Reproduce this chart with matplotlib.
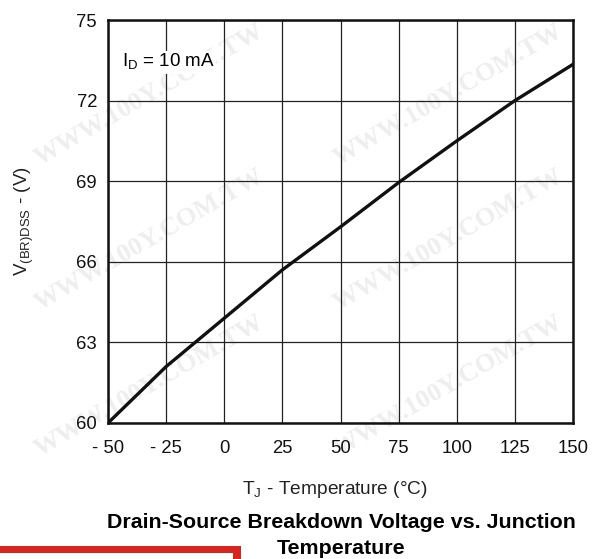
import matplotlib
matplotlib.use("Agg")
import matplotlib.pyplot as plt
from matplotlib.patches import Rectangle

# breakdown voltage
temp_c = [-50, -25, 0, 25, 50, 75, 100, 125, 150]
v_brdss = [60.0, 62.1, 63.9, 65.7, 67.3, 68.95, 70.5, 72.0, 73.35]

x_ticks = [-50, -25, 0, 25, 50, 75, 100, 125, 150]
x_ticklabels = ["- 50", "- 25", "0", "25", "50", "75", "100", "125", "150"]
y_ticks = [60, 63, 66, 69, 72, 75]

plt.rcParams["font.family"] = ["Liberation Sans", "DejaVu Sans"]

fig = plt.figure(figsize=(5.98, 5.59), dpi=100)

# faint watermark, kept behind the axes
wm = "WWW.100Y.COM.TW"
wm_pos = [(0.25, 0.83), (0.75, 0.83), (0.25, 0.57), (0.75, 0.57),
          (0.25, 0.31), (0.75, 0.31)]
for px, py in wm_pos:
    fig.text(px, py, wm, rotation=30, fontsize=19, fontweight="bold",
             family="Liberation Serif", color="#eeeeee", zorder=0,
             ha="center", va="center")

ax = fig.add_axes([0.1806, 0.2433, 0.7776, 0.7209])
ax.set_zorder(2)
ax.patch.set_alpha(0)

ax.plot(temp_c, v_brdss, color="#111111", lw=2.4, zorder=3)

ax.set_xlim(-50, 150)
ax.set_ylim(60, 75)
ax.set_xticks(x_ticks)
ax.set_xticklabels(x_ticklabels)
ax.set_yticks(y_ticks)
ax.grid(True, color="#222222", lw=0.9)
ax.tick_params(length=0, labelsize=13.3, colors="#111111")
ax.tick_params(axis="x", pad=12)
ax.tick_params(axis="y", pad=8)
for s in ax.spines.values():
    s.set_linewidth(1.8)
    s.set_color("#111111")

ax.text(0.03, 0.895, "I$_\\mathregular{D}$ = 10 mA", transform=ax.transAxes,
        fontsize=13.5, ha="left", va="center", zorder=4,
        bbox=dict(facecolor="white", edgecolor="none", pad=1))

ax.set_ylabel("V$_\\mathregular{(BR)DSS}$ - (V)", fontsize=13.5,
              color="#222222", labelpad=29)
fig.text(335 / 598, 1 - 490 / 559, "T$_\\mathregular{J}$ - Temperature (°C)",
         fontsize=13.8, color="#222222", ha="center", va="center")

fig.text(341 / 598, 1 - 523 / 559, "Drain-Source Breakdown Voltage vs. Junction",
         fontsize=15.4, fontweight="bold", ha="center", va="center")
fig.text(341 / 598, 1 - 549 / 559, "Temperature",
         fontsize=15.4, fontweight="bold", ha="center", va="center")

# red frame fragment at the bottom left
fig.patches.append(Rectangle((0, 0), 241 / 598, 13 / 559, transform=fig.transFigure,
                             facecolor="#d8241c", edgecolor="none"))
fig.patches.append(Rectangle((0, 0), 233 / 598, 6 / 559, transform=fig.transFigure,
                             facecolor="white", edgecolor="none"))

fig.savefig("out.png", dpi=100)
